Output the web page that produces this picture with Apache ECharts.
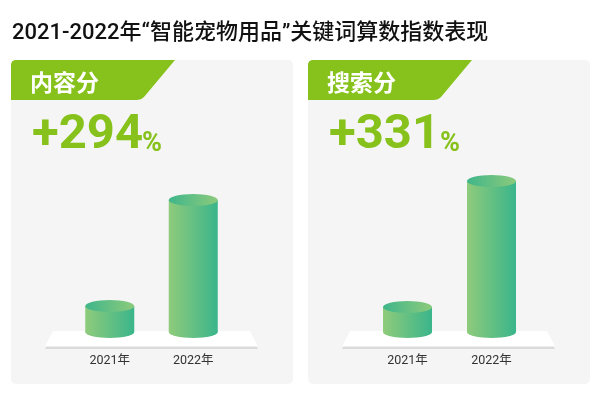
<!DOCTYPE html>
<html><head><meta charset="utf-8">
<script src="https://cdn.jsdelivr.net/npm/echarts@6/dist/echarts.min.js"></script>
<style>html,body{margin:0;padding:0;background:#fff}#c{width:600px;height:396px}</style>
</head><body><div id="c"></div>
<script>
const titleText = '2021-2022年“智能宠物用品”关键词算数指数表现';
const categories = ['2021年', '2022年'];
const panelNames = ['内容分', '搜索分'];
const growthValues = ['+294', '+331'];
const contentValues = [26, 132];
const searchValues = [25, 151];

const chart = echarts.init(document.getElementById('c'), null, {renderer: 'canvas'});
const CJK = '"Noto Sans CJK SC", sans-serif';
const MIX = 'Roboto, "Noto Sans CJK SC", sans-serif';
const GREEN = '#86C21B';

function bodyGrad() {
  return new echarts.graphic.LinearGradient(0, 0, 1, 0, [
    {offset: 0, color: '#8FCB7B'}, {offset: 1, color: '#3AB58B'}]);
}
function topGrad() {
  return new echarts.graphic.LinearGradient(0, 0, 1, 0, [
    {offset: 0, color: '#3FB68A'}, {offset: 1, color: '#8CCA7C'}]);
}

const panels = [0, 297];
const graphics = [];
panels.forEach((dx, i) => {
  graphics.push({type: 'rect', z: 0, shape: {x: 11 + dx, y: 60, width: 282, height: 324, r: 5}, style: {fill: '#F5F5F5'}});
  graphics.push({type: 'polygon', z: 1, shape: {points: [
    [15 + dx, 60], [175 + dx, 60], [144 + dx, 97], [141 + dx, 99.2], [137 + dx, 100], [11 + dx, 100], [11 + dx, 64], [12.2 + dx, 61.2]
  ]}, style: {fill: GREEN}});
  graphics.push({type: 'text', z: 2, x: 30 + dx, y: 82, style: {text: panelNames[i], font: 'bold 23px ' + CJK, fill: '#fff', textAlign: 'left', textVerticalAlign: 'middle', align: 'left', verticalAlign: 'middle'}});
  graphics.push({type: 'text', z: 2, x: 32 + dx, y: 136, style: {text: growthValues[i], font: 'bold 49px Roboto, sans-serif', fill: GREEN, textAlign: 'left', textVerticalAlign: 'middle', align: 'left', verticalAlign: 'middle'}});
  graphics.push({type: 'polygon', z: 1, shape: {points: [[53 + dx, 333], [250 + dx, 333], [258 + dx, 349], [45 + dx, 349]]}, style: {fill: '#DADADA'}});
  graphics.push({type: 'polygon', z: 1, shape: {points: [[53 + dx, 331], [250 + dx, 331], [258 + dx, 346.5], [45 + dx, 346.5]]}, style: {fill: '#FFFFFF'}});
});
graphics.push({type: 'text', z: 2, x: 12, y: 33, style: {text: titleText, font: '500 22px ' + MIX, fill: '#111', textAlign: 'left', textVerticalAlign: 'middle', align: 'left', verticalAlign: 'middle'}});

const datasets = [contentValues, searchValues];
const grids = [
  {left: 68, width: 167, top: 170, bottom: 64},
  {left: 365.5, width: 168, top: 170, bottom: 64}
];
const xAxes = [], yAxes = [], series = [];
datasets.forEach((vals, i) => {
  xAxes.push({type: 'category', gridIndex: i, data: categories,
    axisLine: {show: false}, axisTick: {show: false},
    axisLabel: {color: '#333', fontSize: 12.5, margin: 23, fontFamily: MIX}});
  yAxes.push({type: 'value', gridIndex: i, min: 0, max: 162, show: false, splitLine: {show: false}});
  series.push({type: 'pictorialBar', xAxisIndex: i, yAxisIndex: i, z: 3, data: vals,
    symbol: 'circle', symbolSize: [49, 12], symbolPosition: 'start', symbolOffset: [0, '50%'],
    itemStyle: {color: bodyGrad()}, silent: true, animation: false});
  series.push({type: 'bar', xAxisIndex: i, yAxisIndex: i, z: 4, data: vals, barWidth: 49,
    itemStyle: {color: bodyGrad()}, silent: true, animation: false});
  series.push({type: 'pictorialBar', xAxisIndex: i, yAxisIndex: i, z: 5, data: vals,
    symbol: 'circle', symbolSize: [49, 12], symbolPosition: 'end', symbolOffset: [0, '-50%'],
    itemStyle: {color: topGrad()}, silent: true, animation: false});
});

[0, 297].forEach((dx, i) => {
  graphics.push({type: 'text', z: 2, x: (i === 0 ? 142 : 143) + dx, y: 144, style: {text: '%', font: 'bold 27px Roboto, sans-serif', fill: GREEN, textAlign: 'left', textVerticalAlign: 'middle', align: 'left', verticalAlign: 'middle'}});
});

chart.setOption({
  backgroundColor: '#fff',
  animation: false,
  graphic: {elements: graphics},
  grid: grids,
  xAxis: xAxes,
  yAxis: yAxes,
  series: series
});
</script></body></html>
